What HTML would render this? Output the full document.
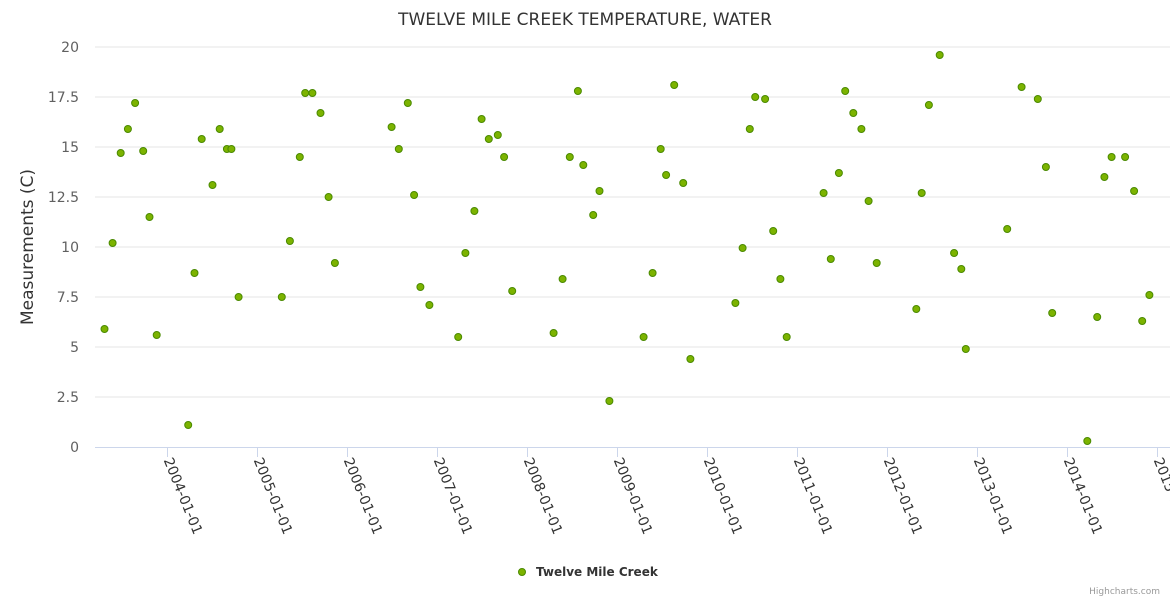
<!DOCTYPE html>
<html><head><meta charset="utf-8">
<style>
body{margin:0;background:#fff;font-family:"Liberation Sans","DejaVu Sans",sans-serif;}
svg text{font-family:"DejaVu Sans","Liberation Sans",sans-serif;}
</style></head>
<body>
<svg id="chart" width="1170" height="600" xmlns="http://www.w3.org/2000/svg">
<rect width="1170" height="600" fill="#fff"/>
<text x="585" y="25" text-anchor="middle" font-size="17" fill="#333">TWELVE MILE CREEK TEMPERATURE, WATER</text>
<text transform="translate(33,247) rotate(-90)" text-anchor="middle" font-size="17" fill="#333">Measurements (C)</text>
<g id="grid"></g><g id="xax"></g><g id="pts"></g>
<g>
<circle cx="522" cy="572" r="3.5" fill="#7cb300" stroke="#4a8a00" stroke-width="1"/>
<text x="536" y="576" font-size="12" font-weight="bold" fill="#333">Twelve Mile Creek</text>
</g>
<text x="1160" y="594" text-anchor="end" font-size="9" fill="#999">Highcharts.com</text>
</svg>
<script>
const yTicks=[0,2.5,5,7.5,10,12.5,15,17.5,20];
const yLabels=["0","2.5","5","7.5","10","12.5","15","17.5","20"];
const xTicks=[2004,2005,2006,2007,2008,2009,2010,2011,2012,2013,2014,2015];
const xLabels=["2004-01-01","2005-01-01","2006-01-01","2007-01-01","2008-01-01","2009-01-01","2010-01-01","2011-01-01","2012-01-01","2013-01-01","2014-01-01","2015-01-01"];
const dates=[2003.30,2003.39,2003.48,2003.56,2003.64,2003.73,2003.80,2003.88,2004.23,2004.30,2004.38,2004.50,2004.58,2004.66,2004.71,2004.79,2005.27,2005.36,2005.47,2005.53,2005.61,2005.70,2005.79,2005.86,2006.49,2006.57,2006.67,2006.74,2006.81,2006.91,2007.23,2007.31,2007.41,2007.49,2007.57,2007.67,2007.74,2007.83,2008.29,2008.39,2008.47,2008.56,2008.62,2008.73,2008.80,2008.91,2009.29,2009.39,2009.48,2009.54,2009.63,2009.73,2009.81,2010.31,2010.39,2010.47,2010.53,2010.64,2010.73,2010.81,2010.88,2011.29,2011.37,2011.46,2011.53,2011.62,2011.71,2011.79,2011.88,2012.32,2012.38,2012.46,2012.58,2012.74,2012.82,2012.87,2013.33,2013.49,2013.67,2013.76,2013.83,2014.22,2014.33,2014.41,2014.49,2014.64,2014.74,2014.83,2014.91];
const temps=[5.9,10.2,14.7,15.9,17.2,14.8,11.5,5.6,1.1,8.7,15.4,13.1,15.9,14.9,14.9,7.5,7.5,10.3,14.5,17.7,17.7,16.7,12.5,9.2,16.0,14.9,17.2,12.6,8.0,7.1,5.5,9.7,11.8,16.4,15.4,15.6,14.5,7.8,5.7,8.4,14.5,17.8,14.1,11.6,12.8,2.3,5.5,8.7,14.9,13.6,18.1,13.2,4.4,7.2,9.95,15.9,17.5,17.4,10.8,8.4,5.5,12.7,9.4,13.7,17.8,16.7,15.9,12.3,9.2,6.9,12.7,17.1,19.6,9.7,8.9,4.9,10.9,18.0,17.4,14.0,6.7,0.3,6.5,13.5,14.5,14.5,12.8,6.3,7.6];
const NS="http://www.w3.org/2000/svg";
const L=95,R=1170,T=47,B=447;
const xs=v=>167.5+(v-2004)*90;
const ys=v=>B-(v/20)*(B-T);
function mk(t,a,p){const e=document.createElementNS(NS,t);for(const k in a)e.setAttribute(k,a[k]);p.appendChild(e);return e;}
const g=document.getElementById('grid'),xa=document.getElementById('xax'),pts=document.getElementById('pts');
yTicks.forEach((v,i)=>{
  if(v>0){const l=mk('line',{x1:L,x2:R,y1:ys(v),y2:ys(v),stroke:'#e6e6e6','stroke-width':1},g);
  
  }
  const t=mk('text',{x:79,y:ys(v)+5,'text-anchor':'end','font-size':14,fill:'#606060'},g);
  t.textContent=yLabels[i];
  
  
});
const ax=mk('line',{x1:L,x2:R,y1:B+0.5,y2:B+0.5,stroke:'#ccd6eb','stroke-width':1},xa);


xTicks.forEach((v,i)=>{
  const x=xs(v);
  const tk=mk('line',{x1:x,x2:x,y1:B,y2:B+10,stroke:'#ccd6eb'},xa);
  
  
  const t=mk('text',{x:0,y:0,'font-size':14,fill:'#333',transform:`translate(${x-4},${B+13}) rotate(68)`},xa);
  t.textContent=xLabels[i];
  
  
});
dates.forEach((d,i)=>{
  const c=mk('circle',{cx:xs(d),cy:ys(temps[i]),r:3.5,fill:'#7cb300',stroke:'#4a8a00','stroke-width':1},pts);
  
  
});
</script>
</body></html>
